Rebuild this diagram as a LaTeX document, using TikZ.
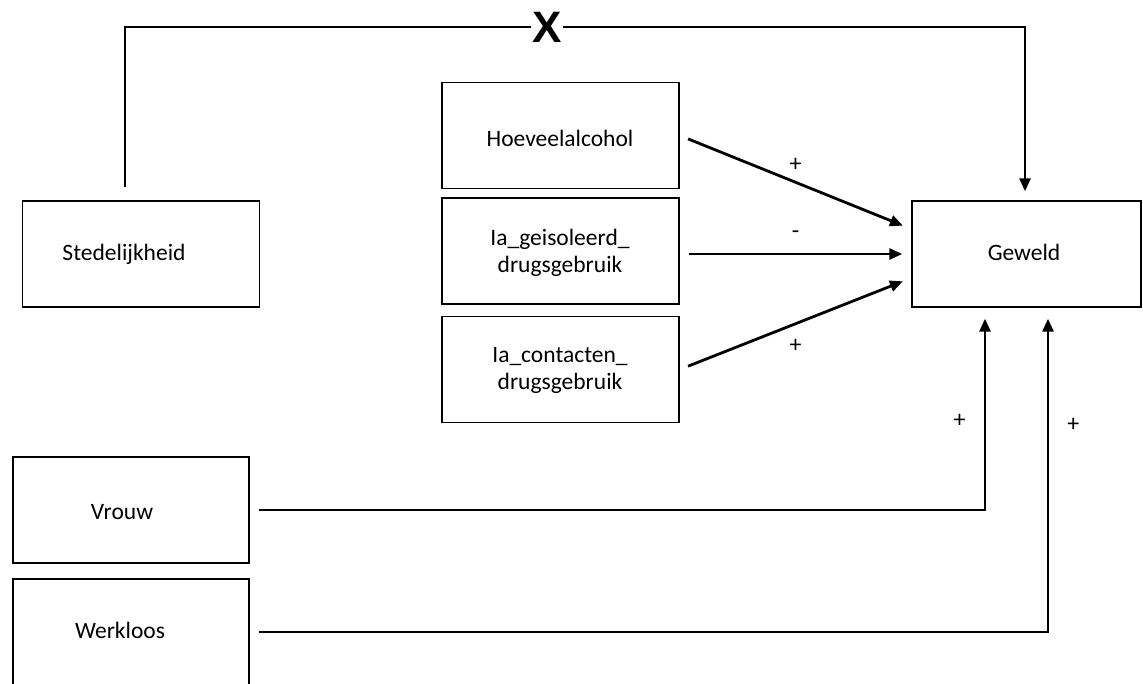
\documentclass[tikz,border=0pt]{standalone}
\usepackage{fontspec}
\setmainfont{Carlito}
\newfontfamily\crossfont{Liberation Sans}
\usetikzlibrary{arrows.meta}

\begin{document}
\begin{tikzpicture}[x=1pt,y=-1pt,
  box/.style={draw, line width=1.4pt, minimum width=237pt, minimum height=106pt},
  txt/.style={font=\fontsize{23.5}{27}\selectfont, align=center, inner sep=0pt},
  link/.style={line width=2.8pt},
  arrow/.style={link, -{Triangle[length=13pt,width=11pt]}, shorten <=9pt, shorten >=9pt},
  sign/.style={font=\fontsize{24}{27}\selectfont, inner sep=0pt}]
\clip (0,0) rectangle (1143,683);

% boxes
\node[box] (stad) at (141,254) {};
\node[box] (alc) at (560.5,135.5) {};
\node[box] (iso) at (560.5,251) {};
\node[box] (cont) at (560.5,369.5) {};
\node[box, minimum width=229pt] (geweld) at (1026.5,254) {};
\node[box, minimum width=236pt] (vrouw) at (131,510) {};
\node[box, minimum width=236pt] (werk) at (131,632) {};

\node[txt] (stadtext) at (124,254) {Stedelijkheid};
\node[txt] (alctext) at (560,138) {Hoeveelalcohol};
\node[txt] (isotext) at (560,253) {Ia\_geisoleerd\_\\drugsgebruik};
\node[txt] (conttext) at (560,370) {Ia\_contacten\_\\drugsgebruik};
\node[txt] (geweldtext) at (1024,252) {Geweld};
\node[txt] (vrouwtext) at (122,512) {Vrouw};
\node[txt] (werktext) at (120,630) {Werkloos};

\node[font=\crossfont\bfseries\fontsize{44}{44}\selectfont, inner sep=1pt] (cross) at (547,27) {X};

% connectors
\draw[link, shorten <=13pt] ([xshift=-16pt]stad.north) |- (cross);
\draw[arrow, shorten <=0pt] (cross) -| ([xshift=-1.5pt]geweld.north);
\draw[arrow] (alc.east) -- ([yshift=25pt]geweld.west) node[sign, midway, above=9pt] {+};
\draw[arrow] (iso.east |- geweld.west) -- (geweld.west) node[sign, midway, above=14pt] {-};
\draw[arrow] (cont.east) -- ([yshift=-24pt]geweld.west) node[sign, midway, below=14pt] {+};
\draw[arrow, shorten >=11pt] (vrouw.east) -| ([xshift=-41.5pt]geweld.south) node[sign, pos=0.72, left=18pt] {+};
\draw[arrow, shorten >=11pt] (werk.east) -| ([xshift=21.5pt]geweld.south) node[sign, pos=0.82, right=18pt] {+};
\end{tikzpicture}
\end{document}
